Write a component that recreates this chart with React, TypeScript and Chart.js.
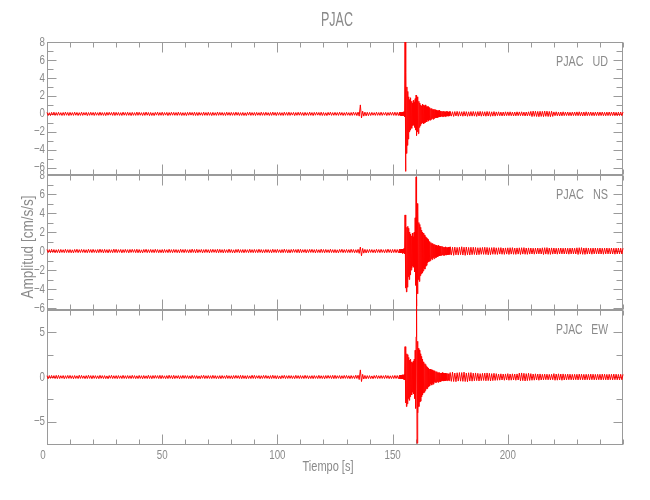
import { useEffect, useRef } from "react";
import { Chart, registerables } from "chart.js";

Chart.register(...registerables);

// ---------------- data ----------------
const station = "PJAC";
const components = ["UD", "NS", "EW"];
const xAxisTitle = "Tiempo [s]";
const yAxisTitle = "Amplitud [cm/s/s]";

// sampling of the three stored segments (seconds)
const preStart = 0;
const preStep = 0.5;
const eventStart = 153;
const eventStep = 0.2;
const postStart = 175;
const postStep = 0.5;

// UD component (cm/s/s)
const udPre = [
  0.16, -0.18, 0.13, -0.19, 0.17, -0.14, 0.19, -0.17, 0.15, -0.16,
  0.18, -0.15, 0.14, -0.18, 0.16, -0.17, 0.2, -0.15, 0.16, -0.19,
  0.17, -0.16, 0.15, -0.17, 0.19, -0.15, 0.16, -0.18, 0.14, -0.17,
  0.19, -0.17, 0.15, -0.14, 0.17, -0.19, 0.15, -0.16, 0.18, -0.15,
  0.16, -0.18, 0.17, -0.15, 0.14, -0.17, 0.19, -0.16, 0.15, -0.17,
  0.15, -0.19, 0.17, -0.15, 0.18, -0.14, 0.16, -0.17, 0.19, -0.18,
  0.17, -0.15, 0.16, -0.17, 0.14, -0.18, 0.19, -0.15, 0.16, -0.17,
  0.18, -0.16, 0.15, -0.19, 0.17, -0.16, 0.14, -0.17, 0.2, -0.16,
  0.18, -0.15, 0.14, -0.18, 0.16, -0.17, 0.2, -0.15, 0.16, -0.19,
  0.16, -0.18, 0.13, -0.19, 0.17, -0.14, 0.19, -0.17, 0.15, -0.16,
  0.19, -0.17, 0.15, -0.14, 0.17, -0.19, 0.15, -0.16, 0.18, -0.15,
  0.17, -0.16, 0.15, -0.17, 0.19, -0.15, 0.16, -0.18, 0.14, -0.17,
  0.15, -0.19, 0.17, -0.15, 0.18, -0.14, 0.16, -0.17, 0.19, -0.18,
  0.16, -0.18, 0.17, -0.15, 0.14, -0.17, 0.19, -0.16, 0.15, -0.17,
  0.18, -0.16, 0.15, -0.19, 0.17, -0.16, 0.14, -0.17, 0.2, -0.16,
  0.17, -0.15, 0.16, -0.17, 0.14, -0.18, 0.19, -0.15, 0.16, -0.17,
  0.17, -0.16, 0.15, -0.17, 0.19, -0.15, 0.16, -0.18, 0.14, -0.17,
  0.16, -0.18, 0.13, -0.19, 0.17, -0.14, 0.19, -0.17, 0.15, -0.16,
  0.16, -0.18, 0.17, -0.15, 0.14, -0.17, 0.19, -0.16, 0.15, -0.17,
  0.18, -0.15, 0.14, -0.18, 0.16, -0.17, 0.2, -0.15, 0.16, -0.19,
  0.17, -0.15, 0.16, -0.17, 0.14, -0.18, 0.19, -0.15, 0.16, -0.17,
  0.19, -0.17, 0.15, -0.14, 0.17, -0.19, 0.15, -0.16, 0.18, -0.15,
  0.18, -0.16, 0.15, -0.19, 0.17, -0.16, 0.14, -0.17, 0.2, -0.16,
  0.15, -0.19, 0.17, -0.15, 0.18, -0.14, 0.16, -0.17, 0.19, -0.18,
  0.16, -0.18, 0.13, -0.19, 0.17, -0.14, 0.19, -0.17, 0.15, -0.16,
  0.17, -0.16, 0.15, -0.17, 0.19, -0.15, 0.16, -0.18, 0.14, -0.17,
  0.18, -0.15, 0.14, -0.18, 0.16, -0.17, 0.2, -0.15, 0.16, -0.19,
  0.2, -0.25, 1.0, -0.45, 0.3, -0.25, 0.2, -0.22, 0.18, -0.2,
  0.16, -0.18, 0.17, -0.15, 0.14, -0.17, 0.19, -0.16, 0.15, -0.17,
  0.19, -0.17, 0.15, -0.14, 0.17, -0.19, 0.15, -0.16, 0.18, -0.15,
  0.18, -0.17, 0.19, -0.18, 0.17, -0.18,
];
const udEvent = [
  0.2, -0.15, 0.18, -0.2, 0.15, -0.22, 0.2, -0.18, 0.22, -0.2,
  0.25, -0.3, 8.0, -6.4, 4.6, -4.4, 3.0, -3.5, 2.5, -2.8,
  1.9, -2.0, 1.6, -1.8, 1.8, -1.5, 1.4, -1.6, 1.2, -1.3,
  1.5, -1.2, 1.3, -1.5, 1.7, -1.8, 2.1, -2.4, 1.9, -2.0,
  1.6, -2.2, 1.4, -1.5, 1.2, -1.3, 1.0, -1.1, 0.9, -1.0,
  1.1, -1.0, 1.0, -1.1, 0.9, -1.0, 1.0, -0.9, 0.8, -0.9,
  0.8, -0.7, 0.8, -0.8, 0.7, -0.7, 0.6, -0.7, 0.6, -0.6,
  0.6, -0.5, 0.5, -0.6, 0.5, -0.5, 0.5, -0.4, 0.45, -0.45,
  0.4, -0.4, 0.35, -0.4, 0.35, -0.35, 0.4, -0.35, 0.3, -0.35,
  0.3, -0.25, 0.3, -0.3, 0.25, -0.3, 0.3, -0.25, 0.25, -0.3,
  0.25, -0.25, 0.3, -0.2, 0.25, -0.25, 0.2, -0.25, 0.25, -0.2,
];
const udPost = [
  0.27, -0.25, 0.24, -0.28, 0.26, -0.23, 0.28, -0.26, 0.25, -0.24,
  0.24, -0.26, 0.27, -0.24, 0.25, -0.27, 0.23, -0.25, 0.26, -0.25,
  0.27, -0.25, 0.24, -0.28, 0.26, -0.23, 0.28, -0.26, 0.25, -0.24,
  0.24, -0.26, 0.27, -0.24, 0.25, -0.27, 0.23, -0.25, 0.26, -0.25,
  0.22, -0.2, 0.23, -0.21, 0.2, -0.23, 0.21, -0.22, 0.23, -0.2,
  0.22, -0.2, 0.23, -0.21, 0.2, -0.23, 0.21, -0.22, 0.23, -0.2,
  0.22, -0.2, 0.23, -0.21, 0.2, -0.23, 0.21, -0.22, 0.23, -0.2,
  0.28, -0.3, 0.31, -0.27, 0.3, -0.29, 0.27, -0.31, 0.29, -0.28,
  0.28, -0.3, 0.31, -0.27, 0.3, -0.29, 0.27, -0.31, 0.29, -0.28,
  0.22, -0.2, 0.23, -0.21, 0.2, -0.23, 0.21, -0.22, 0.23, -0.2,
  0.2, -0.19, 0.21, -0.2, 0.18, -0.21, 0.2, -0.19, 0.21, -0.2,
  0.22, -0.2, 0.23, -0.21, 0.2, -0.23, 0.21, -0.22, 0.23, -0.2,
  0.2, -0.19, 0.21, -0.2, 0.18, -0.21, 0.2, -0.19, 0.21, -0.2,
  0.2, -0.19, 0.21, -0.2, 0.18, -0.21, 0.2, -0.19, 0.21, -0.2,
  0.2, -0.19, 0.21, -0.2, 0.18, -0.21, 0.2, -0.19, 0.21, -0.2,
  0.2,
];

// NS component (cm/s/s)
const nsPre = [
  0.17, -0.16, 0.15, -0.17, 0.19, -0.15, 0.16, -0.18, 0.14, -0.17,
  0.16, -0.18, 0.17, -0.15, 0.14, -0.17, 0.19, -0.16, 0.15, -0.17,
  0.16, -0.18, 0.13, -0.19, 0.17, -0.14, 0.19, -0.17, 0.15, -0.16,
  0.17, -0.15, 0.16, -0.17, 0.14, -0.18, 0.19, -0.15, 0.16, -0.17,
  0.18, -0.15, 0.14, -0.18, 0.16, -0.17, 0.2, -0.15, 0.16, -0.19,
  0.18, -0.16, 0.15, -0.19, 0.17, -0.16, 0.14, -0.17, 0.2, -0.16,
  0.19, -0.17, 0.15, -0.14, 0.17, -0.19, 0.15, -0.16, 0.18, -0.15,
  0.15, -0.19, 0.17, -0.15, 0.18, -0.14, 0.16, -0.17, 0.19, -0.18,
  0.16, -0.18, 0.13, -0.19, 0.17, -0.14, 0.19, -0.17, 0.15, -0.16,
  0.17, -0.16, 0.15, -0.17, 0.19, -0.15, 0.16, -0.18, 0.14, -0.17,
  0.16, -0.18, 0.17, -0.15, 0.14, -0.17, 0.19, -0.16, 0.15, -0.17,
  0.17, -0.15, 0.16, -0.17, 0.14, -0.18, 0.19, -0.15, 0.16, -0.17,
  0.18, -0.15, 0.14, -0.18, 0.16, -0.17, 0.2, -0.15, 0.16, -0.19,
  0.19, -0.17, 0.15, -0.14, 0.17, -0.19, 0.15, -0.16, 0.18, -0.15,
  0.15, -0.19, 0.17, -0.15, 0.18, -0.14, 0.16, -0.17, 0.19, -0.18,
  0.18, -0.16, 0.15, -0.19, 0.17, -0.16, 0.14, -0.17, 0.2, -0.16,
  0.16, -0.18, 0.13, -0.19, 0.17, -0.14, 0.19, -0.17, 0.15, -0.16,
  0.16, -0.18, 0.17, -0.15, 0.14, -0.17, 0.19, -0.16, 0.15, -0.17,
  0.17, -0.16, 0.15, -0.17, 0.19, -0.15, 0.16, -0.18, 0.14, -0.17,
  0.17, -0.15, 0.16, -0.17, 0.14, -0.18, 0.19, -0.15, 0.16, -0.17,
  0.18, -0.15, 0.14, -0.18, 0.16, -0.17, 0.2, -0.15, 0.16, -0.19,
  0.15, -0.19, 0.17, -0.15, 0.18, -0.14, 0.16, -0.17, 0.19, -0.18,
  0.19, -0.17, 0.15, -0.14, 0.17, -0.19, 0.15, -0.16, 0.18, -0.15,
  0.18, -0.16, 0.15, -0.19, 0.17, -0.16, 0.14, -0.17, 0.2, -0.16,
  0.16, -0.18, 0.17, -0.15, 0.14, -0.17, 0.19, -0.16, 0.15, -0.17,
  0.16, -0.18, 0.13, -0.19, 0.17, -0.14, 0.19, -0.17, 0.15, -0.16,
  0.17, -0.16, 0.15, -0.17, 0.19, -0.15, 0.16, -0.18, 0.14, -0.17,
  0.18, -0.24, 0.42, -0.5, 0.28, -0.22, 0.18, -0.2, 0.16, -0.17,
  0.17, -0.15, 0.16, -0.17, 0.14, -0.18, 0.19, -0.15, 0.16, -0.17,
  0.18, -0.15, 0.14, -0.18, 0.16, -0.17, 0.2, -0.15, 0.16, -0.19,
  0.17, -0.16, 0.18, -0.17, 0.16, -0.18,
];
const nsEvent = [
  0.2, -0.2, 0.15, -0.2, 0.2, -0.15, 0.2, -0.25, 0.2, -0.2,
  0.3, -0.3, 3.8, -3.9, 3.0, -4.3, 2.5, -3.8, 2.6, -2.7,
  2.4, -3.0, 2.0, -2.5, 1.8, -2.0, 1.6, -1.8, 1.9, -1.6,
  1.5, -1.7, 2.0, -2.2, 3.5, -3.6, 7.8, -5.8, 5.0, -4.5,
  4.2, -3.0, 3.0, -3.2, 2.8, -2.6, 2.5, -2.4, 2.2, -2.3,
  2.0, -2.1, 1.9, -1.8, 1.7, -1.9, 1.5, -1.6, 1.4, -1.5,
  1.3, -1.2, 1.2, -1.1, 1.0, -1.1, 0.9, -1.0, 0.9, -0.8,
  0.8, -0.9, 0.8, -0.7, 0.7, -0.8, 0.7, -0.6, 0.6, -0.7,
  0.6, -0.6, 0.5, -0.6, 0.6, -0.5, 0.5, -0.5, 0.5, -0.5,
  0.5, -0.45, 0.5, -0.4, 0.45, -0.45, 0.4, -0.45, 0.4, -0.4,
  0.45, -0.4, 0.4, -0.4, 0.35, -0.4, 0.4, -0.35, 0.4, -0.35,
];
const nsPost = [
  0.45, -0.42, 0.4, -0.45, 0.42, -0.4, 0.38, -0.42, 0.4, -0.38,
  0.45, -0.42, 0.4, -0.45, 0.42, -0.4, 0.38, -0.42, 0.4, -0.38,
  0.4, -0.36, 0.38, -0.4, 0.35, -0.38, 0.36, -0.34, 0.38, -0.35,
  0.4, -0.36, 0.38, -0.4, 0.35, -0.38, 0.36, -0.34, 0.38, -0.35,
  0.34, -0.36, 0.35, -0.32, 0.36, -0.34, 0.32, -0.35, 0.33, -0.32,
  0.34, -0.36, 0.35, -0.32, 0.36, -0.34, 0.32, -0.35, 0.33, -0.32,
  0.34, -0.36, 0.35, -0.32, 0.36, -0.34, 0.32, -0.35, 0.33, -0.32,
  0.32, -0.31, 0.3, -0.33, 0.31, -0.3, 0.32, -0.3, 0.3, -0.31,
  0.34, -0.36, 0.35, -0.32, 0.36, -0.34, 0.32, -0.35, 0.33, -0.32,
  0.32, -0.31, 0.3, -0.33, 0.31, -0.3, 0.32, -0.3, 0.3, -0.31,
  0.32, -0.31, 0.3, -0.33, 0.31, -0.3, 0.32, -0.3, 0.3, -0.31,
  0.34, -0.36, 0.35, -0.32, 0.36, -0.34, 0.32, -0.35, 0.33, -0.32,
  0.32, -0.31, 0.3, -0.33, 0.31, -0.3, 0.32, -0.3, 0.3, -0.31,
  0.32, -0.31, 0.3, -0.33, 0.31, -0.3, 0.32, -0.3, 0.3, -0.31,
  0.32, -0.31, 0.3, -0.33, 0.31, -0.3, 0.32, -0.3, 0.3, -0.31,
  0.3,
];

// EW component (cm/s/s)
const ewPre = [
  0.15, -0.19, 0.17, -0.15, 0.18, -0.14, 0.16, -0.17, 0.19, -0.18,
  0.19, -0.17, 0.15, -0.14, 0.17, -0.19, 0.15, -0.16, 0.18, -0.15,
  0.18, -0.16, 0.15, -0.19, 0.17, -0.16, 0.14, -0.17, 0.2, -0.16,
  0.18, -0.15, 0.14, -0.18, 0.16, -0.17, 0.2, -0.15, 0.16, -0.19,
  0.17, -0.15, 0.16, -0.17, 0.14, -0.18, 0.19, -0.15, 0.16, -0.17,
  0.16, -0.18, 0.13, -0.19, 0.17, -0.14, 0.19, -0.17, 0.15, -0.16,
  0.16, -0.18, 0.17, -0.15, 0.14, -0.17, 0.19, -0.16, 0.15, -0.17,
  0.17, -0.16, 0.15, -0.17, 0.19, -0.15, 0.16, -0.18, 0.14, -0.17,
  0.18, -0.16, 0.15, -0.19, 0.17, -0.16, 0.14, -0.17, 0.2, -0.16,
  0.15, -0.19, 0.17, -0.15, 0.18, -0.14, 0.16, -0.17, 0.19, -0.18,
  0.18, -0.15, 0.14, -0.18, 0.16, -0.17, 0.2, -0.15, 0.16, -0.19,
  0.19, -0.17, 0.15, -0.14, 0.17, -0.19, 0.15, -0.16, 0.18, -0.15,
  0.17, -0.15, 0.16, -0.17, 0.14, -0.18, 0.19, -0.15, 0.16, -0.17,
  0.16, -0.18, 0.13, -0.19, 0.17, -0.14, 0.19, -0.17, 0.15, -0.16,
  0.17, -0.16, 0.15, -0.17, 0.19, -0.15, 0.16, -0.18, 0.14, -0.17,
  0.16, -0.18, 0.17, -0.15, 0.14, -0.17, 0.19, -0.16, 0.15, -0.17,
  0.15, -0.19, 0.17, -0.15, 0.18, -0.14, 0.16, -0.17, 0.19, -0.18,
  0.18, -0.16, 0.15, -0.19, 0.17, -0.16, 0.14, -0.17, 0.2, -0.16,
  0.19, -0.17, 0.15, -0.14, 0.17, -0.19, 0.15, -0.16, 0.18, -0.15,
  0.18, -0.15, 0.14, -0.18, 0.16, -0.17, 0.2, -0.15, 0.16, -0.19,
  0.16, -0.18, 0.13, -0.19, 0.17, -0.14, 0.19, -0.17, 0.15, -0.16,
  0.17, -0.15, 0.16, -0.17, 0.14, -0.18, 0.19, -0.15, 0.16, -0.17,
  0.17, -0.16, 0.15, -0.17, 0.19, -0.15, 0.16, -0.18, 0.14, -0.17,
  0.16, -0.18, 0.17, -0.15, 0.14, -0.17, 0.19, -0.16, 0.15, -0.17,
  0.15, -0.19, 0.17, -0.15, 0.18, -0.14, 0.16, -0.17, 0.19, -0.18,
  0.19, -0.17, 0.15, -0.14, 0.17, -0.19, 0.15, -0.16, 0.18, -0.15,
  0.18, -0.16, 0.15, -0.19, 0.17, -0.16, 0.14, -0.17, 0.2, -0.16,
  0.2, -0.28, 0.8, -0.5, 0.3, -0.22, 0.18, -0.2, 0.16, -0.17,
  0.16, -0.18, 0.13, -0.19, 0.17, -0.14, 0.19, -0.17, 0.15, -0.16,
  0.17, -0.16, 0.15, -0.17, 0.19, -0.15, 0.16, -0.18, 0.14, -0.17,
  0.16, -0.17, 0.18, -0.16, 0.17, -0.18,
];
const ewEvent = [
  0.2, -0.2, 0.2, -0.15, 0.2, -0.2, 0.25, -0.2, 0.2, -0.25,
  0.3, -0.3, 3.4, -2.9, 3.0, -3.3, 2.6, -3.0, 2.5, -2.4,
  2.2, -2.6, 1.9, -2.2, 2.0, -1.8, 1.7, -2.0, 1.6, -1.7,
  1.8, -1.9, 2.0, -2.4, 3.0, -3.5, 4.5, 8.7, -7.4, 4.0,
  -4.0, 3.2, -3.3, 3.0, -2.8, 2.6, -2.7, 2.3, -2.2, 2.0,
  -2.0, 1.7, -1.8, 1.6, -1.7, 1.5, -1.5, 1.4, -1.3, 1.2,
  -1.3, 1.1, -1.1, 1.0, -1.0, 0.9, -1.0, 0.9, -0.8, 0.8,
  -0.9, 0.8, -0.7, 0.7, -0.8, 0.7, -0.6, 0.7, -0.6, 0.6,
  -0.6, 0.6, -0.5, 0.5, -0.6, 0.5, -0.5, 0.5, -0.5, 0.45,
  -0.5, 0.45, -0.45, 0.5, -0.4, 0.45, -0.45, 0.4, -0.4, 0.45,
  -0.4, 0.4, -0.4, 0.35, -0.4, 0.4, -0.35, 0.35, -0.4, 0.35,
];
const ewPost = [
  0.5, -0.48, 0.55, -0.5, 0.45, -0.52, 0.48, -0.45, 0.5, -0.46,
  0.5, -0.48, 0.55, -0.5, 0.45, -0.52, 0.48, -0.45, 0.5, -0.46,
  0.44, -0.42, 0.46, -0.4, 0.42, -0.44, 0.38, -0.4, 0.42, -0.38,
  0.44, -0.42, 0.46, -0.4, 0.42, -0.44, 0.38, -0.4, 0.42, -0.38,
  0.38, -0.36, 0.34, -0.35, 0.36, -0.33, 0.34, -0.36, 0.35, -0.33,
  0.38, -0.36, 0.34, -0.35, 0.36, -0.33, 0.34, -0.36, 0.35, -0.33,
  0.44, -0.42, 0.46, -0.4, 0.42, -0.44, 0.38, -0.4, 0.42, -0.38,
  0.38, -0.36, 0.34, -0.35, 0.36, -0.33, 0.34, -0.36, 0.35, -0.33,
  0.31, -0.32, 0.33, -0.3, 0.32, -0.31, 0.3, -0.32, 0.31, -0.3,
  0.38, -0.36, 0.34, -0.35, 0.36, -0.33, 0.34, -0.36, 0.35, -0.33,
  0.31, -0.32, 0.33, -0.3, 0.32, -0.31, 0.3, -0.32, 0.31, -0.3,
  0.31, -0.32, 0.33, -0.3, 0.32, -0.31, 0.3, -0.32, 0.31, -0.3,
  0.31, -0.32, 0.33, -0.3, 0.32, -0.31, 0.3, -0.32, 0.31, -0.3,
  0.31, -0.32, 0.33, -0.3, 0.32, -0.31, 0.3, -0.32, 0.31, -0.3,
  0.31, -0.32, 0.33, -0.3, 0.32, -0.31, 0.3, -0.32, 0.31, -0.3,
  0.3,
];

// axes
const xRange = [0, 250];
const xLabelTicks = [0, 50, 100, 150, 200];
const xMinorTicks = [0, 10, 20, 30, 40, 50, 60, 70, 80, 90, 100, 110, 120, 130, 140, 150, 160, 170, 180, 190, 200, 210, 220, 230, 240, 250];
const udRange = [-6.8, 8];
const nsRange = [-6.2, 8];
const ewRange = [-7.6, 7.5];
const udLabelTicks = [8, 6, 4, 2, 0, -2, -4, -6];
const nsLabelTicks = [8, 6, 4, 2, 0, -2, -4, -6];
const ewLabelTicks = [5, 0, -5];
const udMinorTicks = [7, 5, 3, 1, -1, -3, -5];
const nsMinorTicks = [7, 5, 3, 1, -1, -3, -5];
const ewMinorTicks = [2.5, -2.5];

// ---------------- styling ----------------
const TRACE = "#ff0000";
const AXIS = "#9a9a9a";
const TEXT = "#8a8a8a";
const FONT = '"Liberation Sans", Arial, sans-serif';

function toPoints(pre: number[], ev: number[], post: number[]) {
  const pts: { x: number; y: number }[] = [];
  pre.forEach((v, i) => pts.push({ x: preStart + i * preStep, y: v }));
  ev.forEach((v, i) => pts.push({ x: eventStart + i * eventStep, y: v }));
  post.forEach((v, i) => pts.push({ x: postStart + i * postStep, y: v }));
  return pts;
}

function fmt(v: number) {
  return v < 0 ? "\u2212" + String(-v) : String(v);
}

function drawText(
  ctx: CanvasRenderingContext2D,
  text: string,
  x: number,
  y: number,
  size: number,
  align: "left" | "center" | "right",
  opts: { width?: number; hscale?: number; rotate?: boolean } = {}
) {
  ctx.save();
  ctx.font = `${size}px ${FONT}`;
  ctx.fillStyle = TEXT;
  ctx.textBaseline = "middle";
  ctx.textAlign = "left";
  const w = ctx.measureText(text).width;
  const sx = opts.width ? opts.width / w : opts.hscale ?? 1;
  ctx.translate(x, y);
  if (opts.rotate) ctx.rotate(-Math.PI / 2);
  ctx.scale(sx, 1);
  let dx = 0;
  if (align === "center") dx = -w / 2;
  if (align === "right") dx = -w;
  ctx.fillText(text, dx, 0);
  ctx.restore();
}

const panels = [
  { id: "y1", comp: components[0], labels: udLabelTicks, minor: udMinorTicks },
  { id: "y2", comp: components[1], labels: nsLabelTicks, minor: nsMinorTicks },
  { id: "y3", comp: components[2], labels: ewLabelTicks, minor: ewMinorTicks },
];

const framePlugin = {
  id: "idlFrame",
  beforeDatasetsDraw(chart: any) {
    const ctx: CanvasRenderingContext2D = chart.ctx;
    const xs = chart.scales.x;
    const { left, right } = chart.chartArea;
    ctx.save();
    ctx.strokeStyle = AXIS;
    ctx.lineWidth = 1;
    const line = (x1: number, y1: number, x2: number, y2: number) => {
      ctx.beginPath();
      ctx.moveTo(x1, y1);
      ctx.lineTo(x2, y2);
      ctx.stroke();
    };
    const L = Math.round(left) + 0.5;
    const R = Math.round(right) - 0.5;
    panels.forEach((p) => {
      const ys = chart.scales[p.id];
      const T = Math.round(ys.top) + 0.5;
      const B = Math.round(ys.bottom) - 0.5;
      ctx.strokeRect(L, T, R - L, B - T);
      xMinorTicks.forEach((v) => {
        const px = Math.round(xs.getPixelForValue(v)) + 0.5;
        const len = xLabelTicks.includes(v) ? 10 : 5;
        line(px, T, px, T + len);
        line(px, B, px, B - len);
      });
      const all = [...p.labels, ...p.minor];
      all.forEach((v) => {
        if (v >= ys.max || v <= ys.min) return;
        const py = Math.round(ys.getPixelForValue(v)) + 0.5;
        const len = p.labels.includes(v) ? 9 : 6;
        line(L, py, L + len, py);
        line(R, py, R - len, py);
      });
    });
    ctx.restore();
  },
  afterDraw(chart: any) {
    const ctx: CanvasRenderingContext2D = chart.ctx;
    const xs = chart.scales.x;
    const { left, right, bottom } = chart.chartArea;
    panels.forEach((p) => {
      const ys = chart.scales[p.id];
      p.labels.forEach((v) => {
        const py = ys.getPixelForValue(v);
        drawText(ctx, fmt(v), left - 2, py, 13, "right", { hscale: 0.75 });
      });
      drawText(ctx, `${station}   ${p.comp}`, right - 15, ys.top + 20, 14, "right", { width: 52 });
    });
    xLabelTicks.forEach((v) => {
      const px = xs.getPixelForValue(v) - (v === 0 ? 4 : 0);
      drawText(ctx, String(v), px, bottom + 10, 13, "center", { hscale: 0.75 });
    });
    drawText(ctx, station, (left + right) / 2 + 2, 20, 20, "center", { width: 32 });
    drawText(ctx, xAxisTitle, 328, 467, 15, "center", { width: 51 });
    drawText(ctx, yAxisTitle, 29, 247, 16, "center", { width: 103, rotate: true });
  },
};

export default function App() {
  const ref = useRef<HTMLCanvasElement | null>(null);
  useEffect(() => {
    if (!ref.current) return;
    const hidden = {
      ticks: { display: false },
      grid: { display: false, drawTicks: false },
      border: { display: false },
    };
    const chart = new Chart(ref.current, {
      type: "line",
      data: {
        datasets: [
          { label: components[0], data: toPoints(udPre, udEvent, udPost), yAxisID: "y1" },
          { label: components[1], data: toPoints(nsPre, nsEvent, nsPost), yAxisID: "y2" },
          { label: components[2], data: toPoints(ewPre, ewEvent, ewPost), yAxisID: "y3" },
        ].map((d) => ({
          ...d,
          xAxisID: "x",
          borderColor: TRACE,
          backgroundColor: TRACE,
          borderWidth: 1,
          pointRadius: 0,
          tension: 0,
          fill: false,
          clip: false as any,
        })),
      },
      options: {
        animation: false,
        responsive: false,
        events: [],
        layout: { padding: { left: 47, right: 27, top: 42, bottom: 55 } },
        plugins: {
          legend: { display: false },
          tooltip: { enabled: false },
          title: { display: false },
        },
        scales: {
          x: { type: "linear", position: "bottom", min: xRange[0], max: xRange[1], ...hidden },
          y1: { type: "linear", position: "left", stack: "panels", stackWeight: 133, weight: 3, min: udRange[0], max: udRange[1], ...hidden },
          y2: { type: "linear", position: "left", stack: "panels", stackWeight: 135, weight: 2, min: nsRange[0], max: nsRange[1], ...hidden },
          y3: { type: "linear", position: "left", stack: "panels", stackWeight: 135, weight: 1, min: ewRange[0], max: ewRange[1], ...hidden },
        } as any,
      },
      plugins: [framePlugin],
    });
    return () => chart.destroy();
  }, []);
  return (
    <div style={{ position: "absolute", left: 0, top: 0, width: 650, height: 500, background: "#fff" }}>
      <canvas ref={ref} width={650} height={500} style={{ display: "block" }} />
    </div>
  );
}
